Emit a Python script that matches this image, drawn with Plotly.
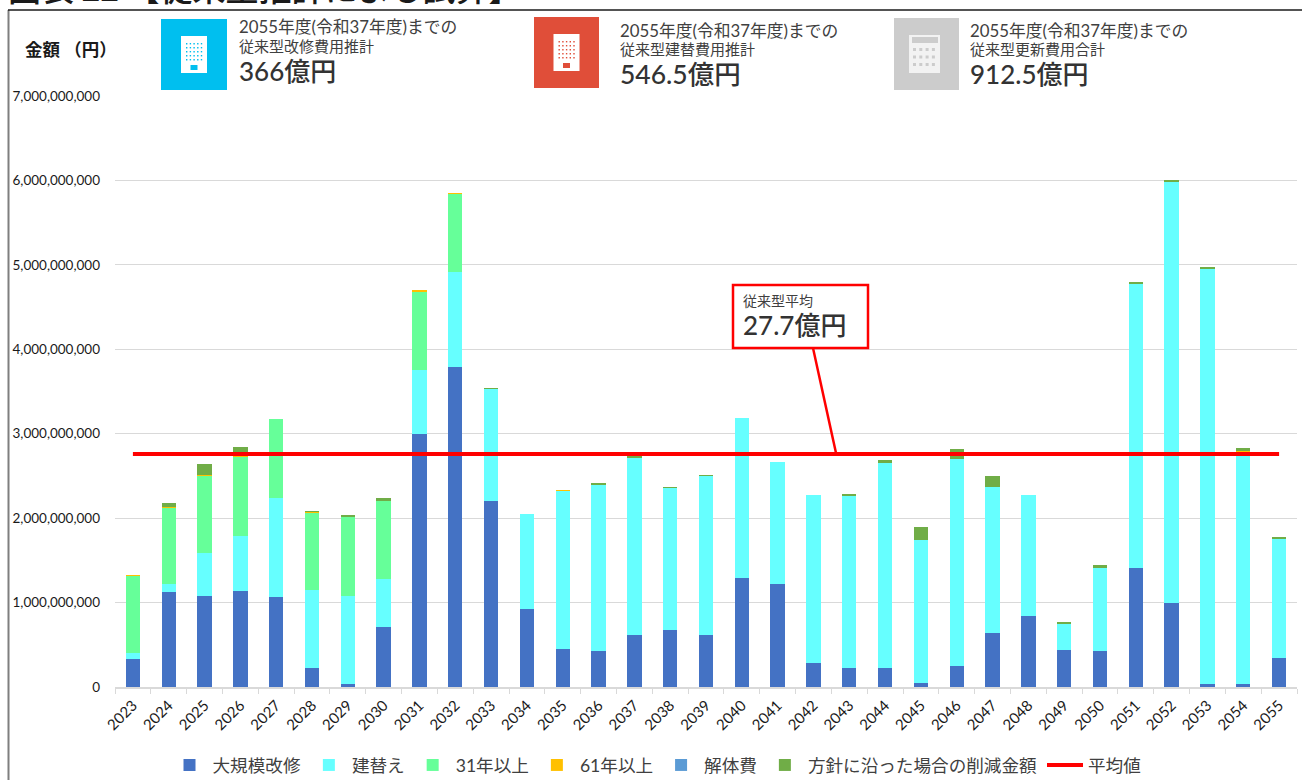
import plotly.graph_objects as go

years = [str(y) for y in range(2023, 2056)]
# stacked segments, in units of 100 million yen
major_repair = [3.3,11.3,10.8,11.4,10.7,2.3,0.3,7.1,30.0,37.9,22.0,9.2,4.5,4.3,6.2,6.7,6.2,12.9,12.2,2.9,2.3,2.3,0.5,2.5,6.4,8.4,4.4,4.3,14.1,10.0,0.4,0.4,3.4]
rebuild = [0.7,0.9,5.1,6.5,11.7,9.2,10.5,5.7,7.6,11.2,13.3,11.3,18.8,19.7,21.0,16.9,18.8,19.0,14.5,19.9,20.3,24.2,16.9,24.5,17.3,14.4,3.1,9.8,33.6,49.9,49.2,27.5,14.1]
over31 = [9.2,9.1,9.2,9.4,9.3,9.2,9.4,9.3,9.3,9.3,0,0,0,0,0,0,0,0,0,0,0,0,0,0,0,0,0,0,0,0,0,0,0]
over61 = [0.05,0.03,0.03,0.03,0,0.03,0,0.03,0.02,0.05,0.02,0,0.02,0.02,0,0.03,0,0,0,0,0,0,0,0,0,0,0.02,0,0,0,0,0.02,0]
demolition = [0]*33
reduction = [0,0.5,1.3,1.1,0,0.1,0.2,0.2,0,0,0.05,0,0,0.15,0.15,0.03,0.05,0,0,0,0.3,0.4,1.6,1.2,1.3,0,0.2,0.3,0.3,0.08,0.08,0.4,0.3]
average = 27.6

series = [("大規模改修", major_repair, "#4472C4"), ("建替え", rebuild, "#66FFFF"),
          ("31年以上", over31, "#66FF99"), ("61年以上", over61, "#FFC000"),
          ("解体費", demolition, "#5B9BD5"), ("方針に沿った場合の削減金額", reduction, "#70AD47")]

FONT = "Lato, 'Noto Sans CJK JP', sans-serif"
CJK = "'Noto Sans CJK JP', sans-serif"
L, R, T, B = 115, 1297, 96, 687
def px(x): return (x - L) / (R - L)
def py(y): return (B - y) / (B - T)

fig = go.Figure()
for name, vals, col in series:
    fig.add_bar(name=name, x=years, y=[v * 1e8 for v in vals], marker_color=col, marker_line_width=0)
fig.add_scatter(name="平均値", x=years, y=[average * 1e8] * len(years), mode="lines",
                line=dict(color="#FF0000", width=4))

shapes, annos = [], []
def rect(x0, y0, x1, y1, fill, line=None, lw=0):
    shapes.append(dict(type="rect", xref="paper", yref="paper", x0=px(x0), x1=px(x1), y0=py(y0), y1=py(y1),
                       fillcolor=fill, line=dict(color=line or fill, width=lw), layer="above"))
def seg(x0, y0, x1, y1, col, w):
    shapes.append(dict(type="line", xref="paper", yref="paper", x0=px(x0), x1=px(x1), y0=py(y0), y1=py(y1),
                       line=dict(color=col, width=w), layer="above"))
def text(x, y, s, size, col="#404040", bold=False, font=FONT, weight=None):
    f = dict(size=size, color=col, family=font)
    if weight:
        f["weight"] = weight
    annos.append(dict(xref="paper", yref="paper", x=px(x), y=py(y), xanchor="left", yanchor="middle",
                      showarrow=False, align="left", borderpad=0,
                      text=f"<b>{s}</b>" if bold else s, font=f))

# frame
seg(8.5, 10, 8.5, 780, "#7F7F7F", 2)
seg(8, 10, 1302, 10, "#1A1A1A", 1.5)
text(7, -13, "図表 22 【従来型推計による試算】", 33, "#1A1A1A", False, CJK, 500)
text(24, 50, "金額 （円）", 17.5, "#1A1A1A", True)

def building(x0, y0, x1, col):
    rect(x0, y0, x1, y0 + 71, col)
    cx = (x0 + x1) / 2
    rect(cx - 13, y0 + 17, cx + 13, y0 + 54, "#FFFFFF")
    for r in range(5):
        for c in range(5):
            rect(cx - 8 + c * 3.7, y0 + 24 + r * 4, cx - 6.6 + c * 3.7, y0 + 25.4 + r * 4, col)
    rect(cx - 3.5, y0 + 46, cx + 3.5, y0 + 51, col)

building(161, 19, 227, "#00BFEF")
building(534, 17, 599, "#E04E39")
# calculator icon
rect(894, 18, 959, 90, "#CCCCCC")
rect(909, 35, 940, 73, "#F2F2F2")
rect(912, 37, 938, 43, "#CCCCCC")
for r in range(3):
    for c in range(4):
        rect(913 + c * 6.3, 48 + r * 7.5, 916 + c * 6.3, 51 + r * 7.5, "#CCCCCC")

for x, y, l2, v, s in [(238, 0, "従来型改修費用推計", "366億円", 26), (619, 3, "従来型建替費用推計", "546.5億円", 26.5), (969, 3, "従来型更新費用合計", "912.5億円", 26)]:
    text(x, 27 + y, "2055年度(令和37年度)までの", 16.8)
    text(x, 46 + y, l2, 15)
    text(x, 71 + y, v, s, "#333333", False, FONT, 500)

# average call-out
seg(813, 348, 836, 453, "#FF0000", 2.5)
rect(733, 285, 868, 348, "#FFFFFF", "#FF0000", 2.5)
text(742, 300, "従来型平均", 14)
text(742, 325, "27.7億円", 26, "#333333", False, FONT, 500)

fig.update_layout(
    width=1302, height=780, barmode="stack", bargap=0.6,
    margin=dict(l=L, r=1302 - R, t=T, b=780 - B, autoexpand=False),
    paper_bgcolor="#FFFFFF", plot_bgcolor="#FFFFFF",
    font=dict(family=FONT, color="#1A1A1A"),
    shapes=shapes, annotations=annos,
    legend=dict(orientation="h", x=px(656.5), xanchor="center", y=py(765), yanchor="middle", traceorder="normal",
                font=dict(size=17.6, color="#404040", family=FONT), itemwidth=36),
    xaxis=dict(type="category", tickangle=-45, tickson="boundaries", ticks="outside", ticklen=5,
               tickcolor="#D9D9D9", linecolor="#D9D9D9", linewidth=1.5, showgrid=False, ticklabelstandoff=2,
               tickfont=dict(size=15, color="#1A1A1A")),
    yaxis=dict(range=[0, 7e9], tick0=0, dtick=1e9, tickformat=",d", gridcolor="#D9D9D9", gridwidth=1,
               zeroline=False, showline=False, ticklabelstandoff=14, tickfont=dict(size=13.5, color="#1A1A1A")),
)
fig.write_html("out.html", config={"displayModeBar": False},
               post_script="document.body.style.margin='0';document.body.style.overflow='hidden';")
